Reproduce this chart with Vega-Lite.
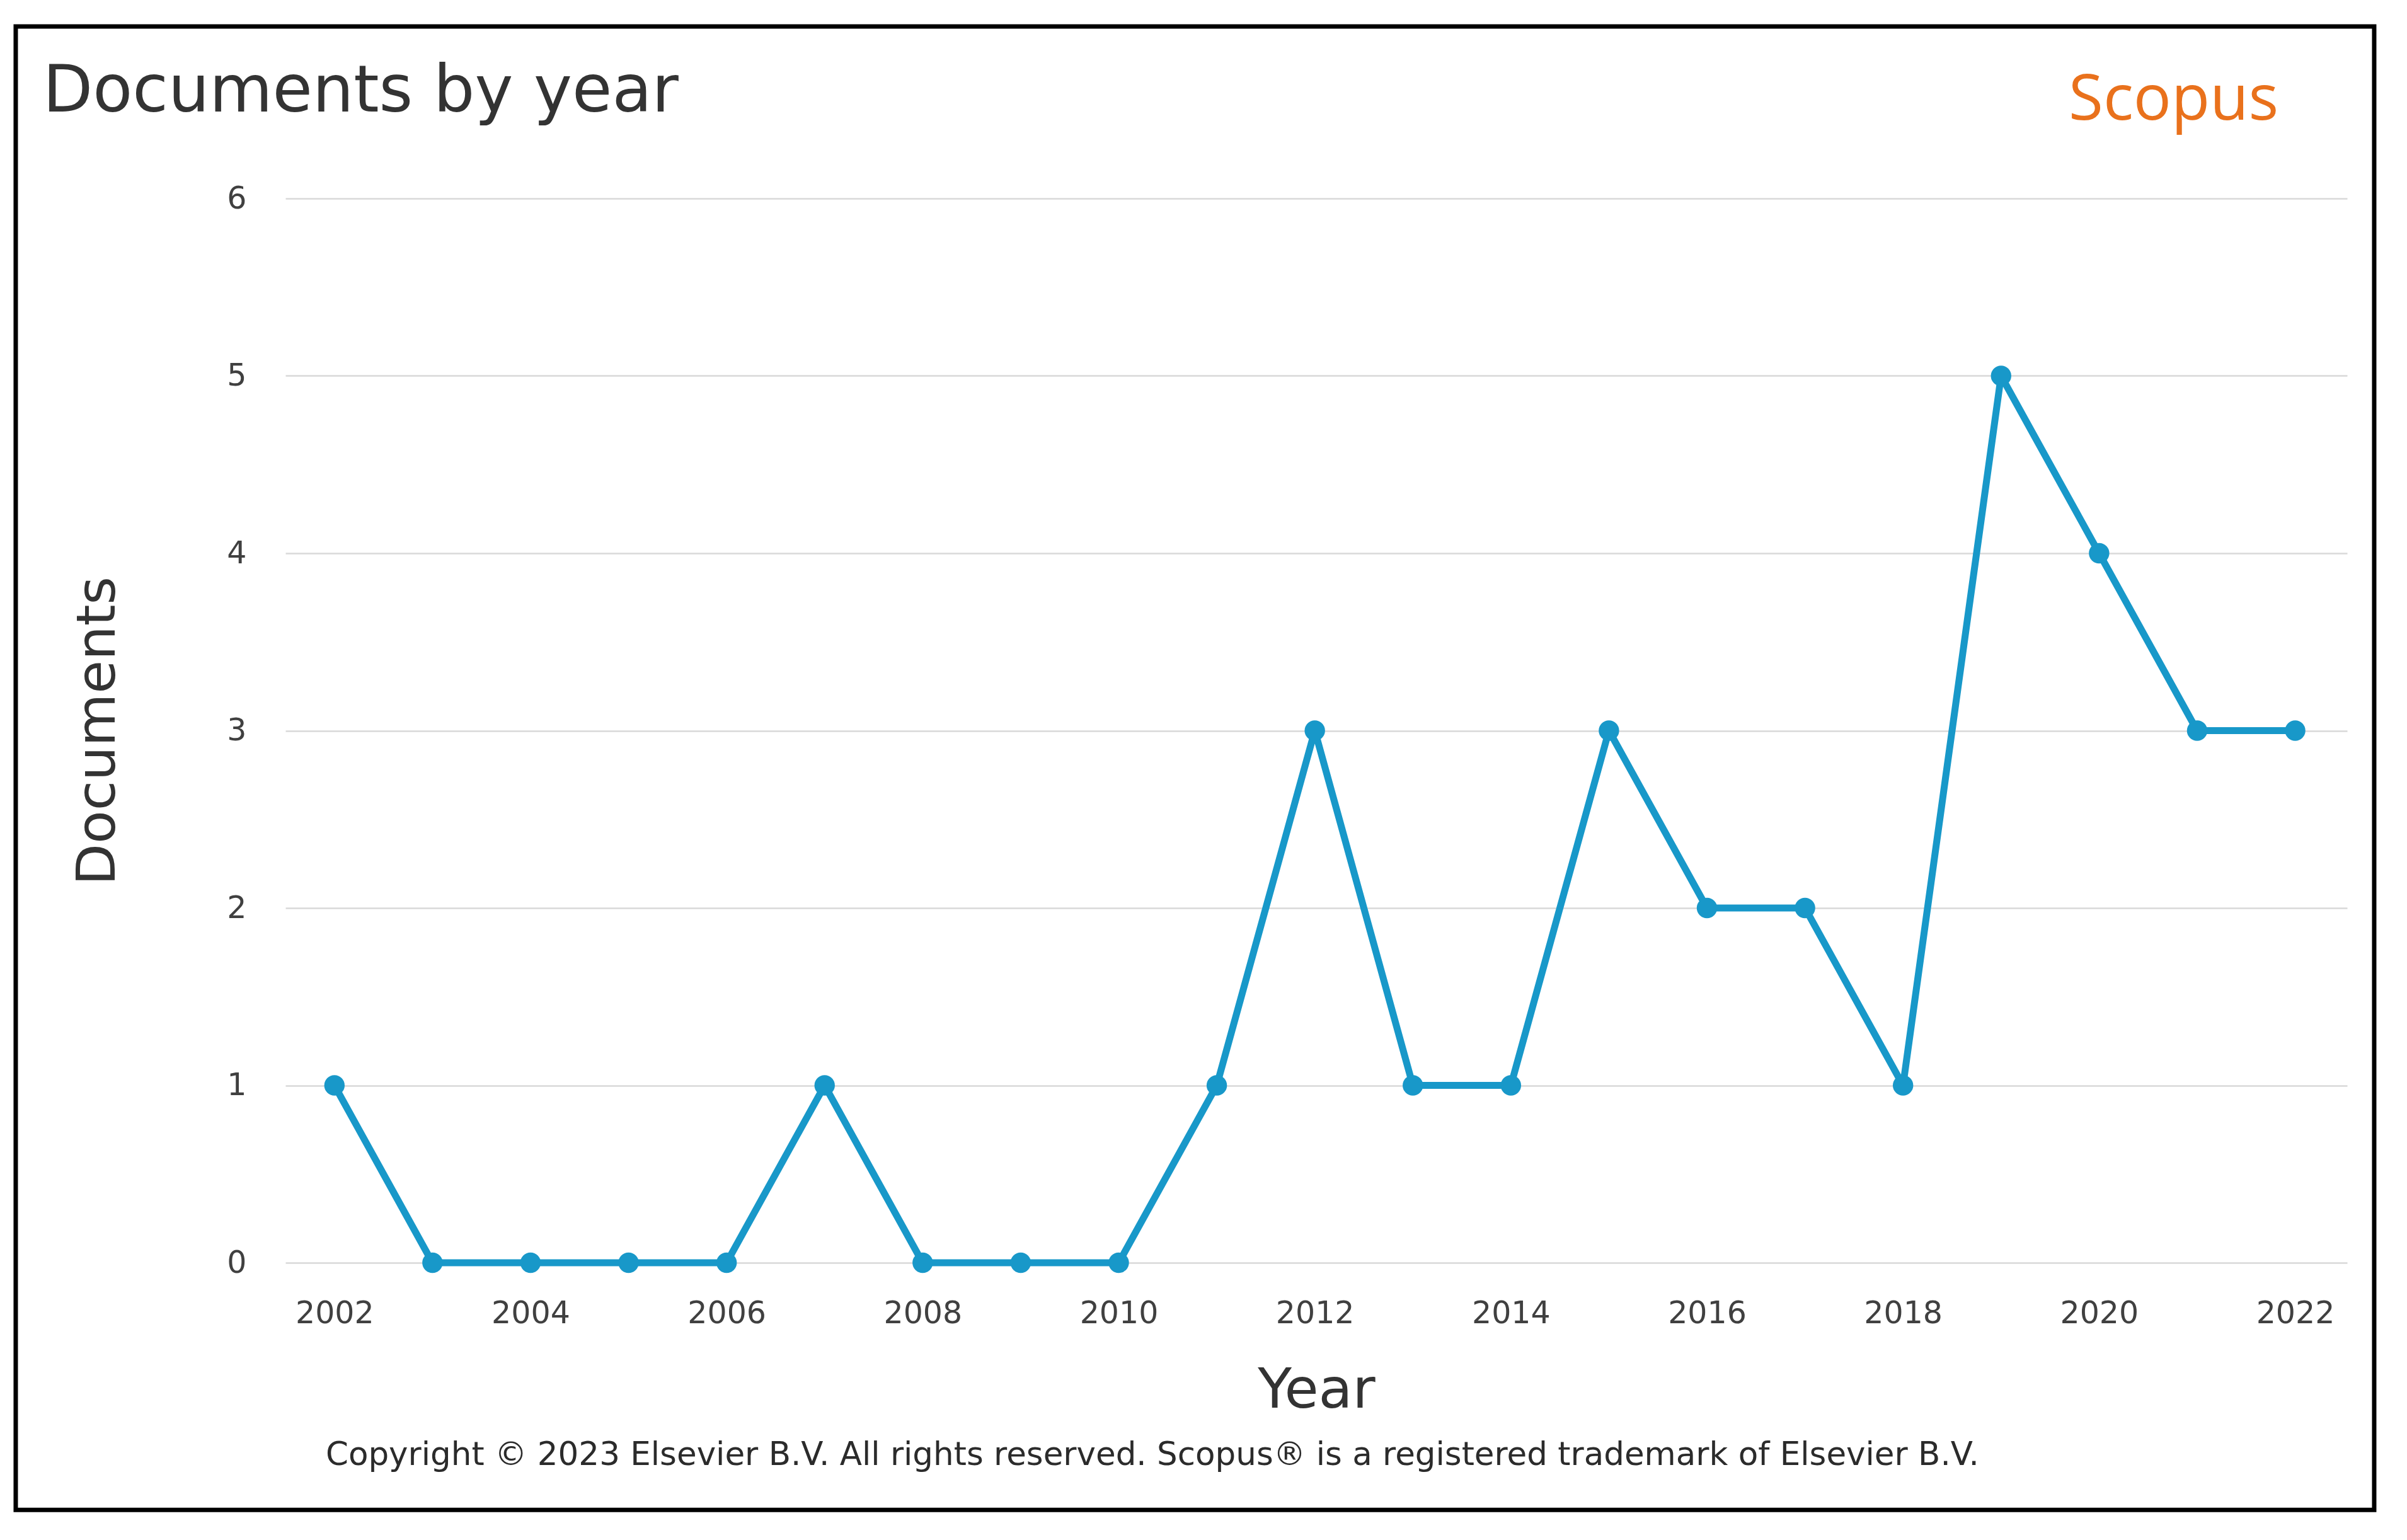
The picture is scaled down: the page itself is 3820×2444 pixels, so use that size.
{
  "$schema": "https://vega.github.io/schema/vega-lite/v6.json",
  "width": 3272,
  "height": 1689,
  "autosize": {"type": "none"},
  "padding": {"left": 453, "top": 315, "right": 95, "bottom": 440},
  "background": "white",
  "title": {
    "text": "Documents by year",
    "anchor": "start",
    "frame": "group",
    "orient": "top",
    "baseline": "alphabetic",
    "offset": -242,
    "dx": -385,
    "font": "DejaVu Sans",
    "fontSize": 103,
    "fontWeight": "normal",
    "color": "#333333"
  },
  "config": {
    "view": {"stroke": null},
    "font": "DejaVu Sans"
  },
  "datasets": {
    "docs": [
      {"year": 2002, "documents": 1},
      {"year": 2003, "documents": 0},
      {"year": 2004, "documents": 0},
      {"year": 2005, "documents": 0},
      {"year": 2006, "documents": 0},
      {"year": 2007, "documents": 1},
      {"year": 2008, "documents": 0},
      {"year": 2009, "documents": 0},
      {"year": 2010, "documents": 0},
      {"year": 2011, "documents": 1},
      {"year": 2012, "documents": 3},
      {"year": 2013, "documents": 1},
      {"year": 2014, "documents": 1},
      {"year": 2015, "documents": 3},
      {"year": 2016, "documents": 2},
      {"year": 2017, "documents": 2},
      {"year": 2018, "documents": 1},
      {"year": 2019, "documents": 5},
      {"year": 2020, "documents": 4},
      {"year": 2021, "documents": 3},
      {"year": 2022, "documents": 3}
    ],
    "brand": [{"label": "Scopus"}],
    "notice": [{"label": "Copyright © 2023 Elsevier B.V. All rights reserved. Scopus® is a registered trademark of Elsevier B.V."}],
    "frame": [{"label": "frame"}]
  },
  "layer": [
    {
      "data": {"name": "docs"},
      "mark": {"type": "line", "color": "#1898c9", "strokeWidth": 11, "strokeJoin": "round", "strokeCap": "round"},
      "encoding": {
        "x": {
          "field": "year",
          "type": "quantitative",
          "scale": {"domain": [2001.5, 2022.53], "nice": false, "zero": false},
          "axis": {
            "title": "Year",
            "values": [2002, 2004, 2006, 2008, 2010, 2012, 2014, 2016, 2018, 2020, 2022],
            "format": "d",
            "grid": false,
            "domain": false,
            "ticks": false,
            "tickSize": 0,
            "labelFont": "DejaVu Sans",
            "labelFontSize": 49,
            "labelColor": "#404040",
            "labelPadding": 56,
            "labelFlush": false,
            "labelOverlap": false,
            "titleFont": "DejaVu Sans",
            "titleFontSize": 88,
            "titleFontWeight": "normal",
            "titleColor": "#333333",
            "titlePadding": 54
          }
        },
        "y": {
          "field": "documents",
          "type": "quantitative",
          "scale": {"domain": [0, 6], "nice": false, "zero": true},
          "axis": {
            "title": "Documents",
            "values": [0, 1, 2, 3, 4, 5, 6],
            "format": "d",
            "grid": true,
            "gridColor": "#d9d9d9",
            "gridWidth": 2.5,
            "domain": false,
            "ticks": false,
            "tickSize": 0,
            "labelFont": "DejaVu Sans",
            "labelFontSize": 49,
            "labelColor": "#404040",
            "labelPadding": 62,
            "labelFlush": false,
            "titleFont": "DejaVu Sans",
            "titleFontSize": 86,
            "titleFontWeight": "normal",
            "titleColor": "#333333",
            "titlePadding": 160
          }
        }
      }
    },
    {
      "data": {"name": "docs"},
      "mark": {"type": "point", "filled": true, "opacity": 1, "size": 1050, "color": "#1898c9"},
      "encoding": {
        "x": {"field": "year", "type": "quantitative"},
        "y": {"field": "documents", "type": "quantitative"}
      }
    },
    {
      "data": {"name": "brand"},
      "mark": {"type": "text", "font": "Open Sans", "fontSize": 100, "color": "#e9711c", "align": "center", "baseline": "alphabetic"},
      "encoding": {
        "x": {"datum": 2020.76, "type": "quantitative"},
        "y": {"datum": 6.444, "type": "quantitative"},
        "text": {"field": "label", "type": "nominal"}
      }
    },
    {
      "data": {"name": "notice"},
      "mark": {"type": "text", "font": "DejaVu Sans", "fontSize": 51.5, "color": "#2b2b2b", "align": "left", "baseline": "alphabetic"},
      "encoding": {
        "x": {"datum": 2001.911, "type": "quantitative"},
        "y": {"datum": -1.14, "type": "quantitative"},
        "text": {"field": "label", "type": "nominal"}
      }
    },
    {
      "data": {"name": "frame"},
      "mark": {"type": "rect", "fill": null, "fillOpacity": 0, "stroke": "#000000", "strokeWidth": 7},
      "encoding": {
        "x": {"datum": 1998.749, "type": "quantitative"},
        "x2": {"datum": 2022.806},
        "y": {"datum": 6.97, "type": "quantitative"},
        "y2": {"datum": -1.393}
      }
    }
  ]
}
